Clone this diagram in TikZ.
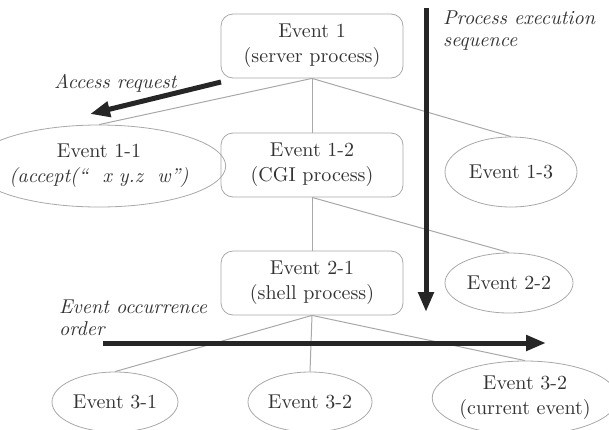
\documentclass[tikz,border=0pt]{standalone}
\usepackage{tikz}
\usetikzlibrary{shapes,arrows.meta,positioning,calc}

\definecolor{inkgray}{HTML}{333333}
\definecolor{edgegray}{HTML}{A8A8A8}

\begin{document}
\begin{tikzpicture}[x=0.5pt, y=-0.5pt,
    every node/.style={font=\fontsize{10}{12.5}\selectfont, text=inkgray},
    evbox/.style={draw=edgegray, rounded corners=6pt, minimum width=91pt, minimum height=32pt, align=center, inner sep=0pt},
    evell/.style={draw=edgegray, ellipse, inner sep=0pt, align=center},
    link/.style={draw=edgegray, line width=0.5pt},
    bigarrow/.style={draw=black!85, line width=2.5pt, -{Triangle[length=10pt,width=7.5pt]}},
    note/.style={font=\fontsize{10}{11}\selectfont\itshape, align=left}]
    \useasboundingbox (0,0) rectangle (609,429);

    \node (ev1) [evbox] at (312,46) {Event 1\\(server process)};
    \node (ev11) [evell, minimum width=91pt, minimum height=41pt] at (99,166) {Event 1-1\\\textit{(accept(``\ \ x y.z\ \ w'')}};
    \node (ev12) [evbox] at (312,165) {Event 1-2\\(CGI process)};
    \node (ev13) [evell, minimum width=66pt, minimum height=35pt] at (511,172) {Event 1-3};
    \node (ev21) [evbox] at (312,283) {Event 2-1\\(shell process)};
    \node (ev22) [evell, minimum width=64pt, minimum height=30pt] at (509,283) {Event 2-2};
    \node (ev31) [evell, minimum width=63pt, minimum height=30pt] at (115,402) {Event 3-1};
    \node (ev32) [evell, minimum width=62pt, minimum height=30pt] at (310,402) {Event 3-2};
    \node (ev33) [evell, minimum width=87pt, minimum height=37pt] at (525,398) {Event 3-2\\(current event)};

    \draw [link] (ev1.south) -- (ev11.north);
    \draw [link] (ev1.south) -- (ev12.north);
    \draw [link] (ev1.south) -- (ev13.north);
    \draw [link] (ev12.south) -- (ev21.north);
    \draw [link] (ev12.south) -- (ev22.north);
    \draw [link] (ev21.south) -- (ev31.north);
    \draw [link] (ev21.south) -- (ev32.north);
    \draw [link] (ev21.south) -- (ev33.north);

    % thick arrows and their labels
    \coordinate (seqtop) at (426,8);
    \coordinate (seqend) at (426,312);
    \coordinate (occtail) at (103,343);
    \coordinate (occhead) at (546,343);
    \coordinate (acctail) at (221,82);
    \coordinate (acchead) at (90,114);
    \draw [bigarrow] (seqtop) -- (seqend);
    \draw [bigarrow] (occtail) -- (occhead);
    \draw [bigarrow] (acctail) -- (acchead);

    \node (seqlabel) [note, anchor=west] at (436,31) {Process execution\\sequence};
    \node (acclabel) [note, anchor=west] at (47,83) {Access request};
    \node (occlabel) [note, anchor=west] at (52,318) {Event occurrence\\order};
\end{tikzpicture}
\end{document}
